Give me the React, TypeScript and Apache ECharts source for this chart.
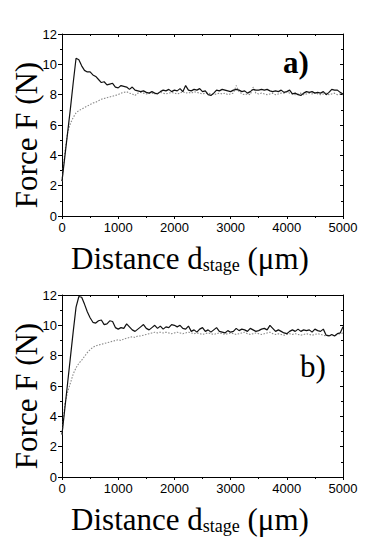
import React, { useEffect, useRef } from "react";
import * as echarts from "echarts";

const distance: number[] = [];
for (let d = 0; d <= 5000; d += 50) distance.push(d);

const yTicks = [0, 2, 4, 6, 8, 10, 12];
const xTicks = [0, 1000, 2000, 3000, 4000, 5000];

const aSolid = [
  2.3, 3.9, 5.5, 7.1, 8.8, 10.4, 10.3, 9.9, 9.6, 9.5,
  9.5, 9.3, 9.2, 9.0, 8.8, 8.85, 8.65, 8.7, 8.75, 8.5,
  8.45, 8.6, 8.55, 8.5, 8.35, 8.5, 8.3, 8.25, 8.2, 8.25,
  8.15, 8.1, 8.2, 8.1, 8.05, 8.2, 8.3, 8.25, 8.35, 8.2,
  8.3, 8.25, 8.4, 8.2, 8.6, 8.3, 8.25, 8.35, 8.3, 8.4,
  8.2, 8.25, 8.0, 7.95, 8.1, 8.3, 8.25, 8.35, 8.3, 8.25,
  8.2, 8.3, 8.35, 8.3, 8.2, 8.25, 8.1, 8.2, 8.35, 8.3,
  8.3, 8.35, 8.3, 8.35, 8.25, 8.2, 8.25, 8.2, 8.3, 8.15,
  8.2, 8.3, 8.05, 8.1, 8.0, 7.95, 8.1, 8.2, 8.15, 8.2,
  8.1, 8.15, 8.1, 8.2, 8.0, 8.15, 8.35, 8.3, 8.3, 8.15,
  8.05,
];

const aDotted = [
  2.3, 4.2, 5.5, 6.1, 6.5, 6.8, 6.95, 7.05, 7.15, 7.25,
  7.35, 7.45, 7.5, 7.6, 7.7, 7.75, 7.8, 7.85, 7.9, 7.95,
  8.0, 8.1, 8.15, 8.2, 8.1, 8.05, 7.95, 8.1, 8.15, 8.1,
  8.05, 8.1, 8.1, 8.05, 8.1, 8.15, 8.1, 8.05, 8.1, 8.15,
  8.1, 8.05, 8.1, 8.2, 8.1, 8.15, 8.1, 8.2, 8.15, 8.1,
  8.05, 8.1, 8.1, 8.05, 8.0, 8.05, 8.1, 8.05, 8.1, 8.0,
  8.05, 8.1, 8.6, 8.2, 8.05, 8.0, 8.05, 8.0, 8.5, 8.1,
  8.05, 8.1, 8.05, 8.0, 8.05, 8.1, 8.0, 8.05, 8.1, 8.1,
  8.2, 8.1, 8.05, 8.0, 8.05, 8.1, 8.0, 8.05, 8.1, 8.05,
  8.15, 8.05, 8.0, 8.05, 8.1, 8.0, 8.05, 8.1, 8.0, 8.05,
  8.0,
];

const bSolid = [
  2.8, 4.5, 6.2, 7.9, 9.6, 11.2, 11.9, 11.85, 11.4, 10.9,
  10.5, 10.2, 10.15, 10.3, 10.35, 10.05, 10.1, 10.3, 10.25, 9.85,
  9.75, 9.85, 9.8, 10.1, 9.9, 9.7, 9.6, 9.75, 9.9, 10.05,
  9.8, 9.7, 9.85, 10.0, 9.8, 9.95, 9.75, 9.9, 9.85, 10.05,
  10.0, 9.9, 10.0, 9.8, 9.75, 9.95, 9.6, 9.7, 9.55, 9.75,
  9.85, 9.6, 9.7, 9.55, 9.7, 9.85, 9.6, 9.55, 9.5, 9.65,
  9.55, 9.6, 9.8, 9.65, 9.75, 9.7, 9.6, 9.8, 9.7, 9.6,
  9.65, 9.75, 9.8, 9.7, 10.0, 9.8, 9.6, 9.7, 9.6, 9.5,
  9.45, 9.6, 9.7, 9.6, 9.75, 9.6, 9.7, 9.65, 9.7, 9.55,
  9.75, 9.65, 9.6, 9.75, 9.35, 9.3, 9.4, 9.3, 9.45, 9.5,
  9.9,
];

const bDotted = [
  2.8, 4.8, 5.6, 6.2, 6.8, 7.2, 7.5, 7.7, 7.95, 8.2,
  8.4, 8.55, 8.65, 8.7, 8.75, 8.8, 8.85, 8.9, 8.95, 9.0,
  9.05, 9.0, 9.1, 9.15, 9.2, 9.25, 9.2, 9.3, 9.3, 9.35,
  9.4, 9.45, 9.5, 9.55, 9.5, 9.55, 9.5, 9.55, 9.5, 9.45,
  9.5, 9.55, 9.5, 9.45, 9.5, 9.55, 9.5, 9.45, 9.5, 9.45,
  9.4, 9.45, 9.5, 9.45, 9.4, 9.45, 9.5, 9.45, 9.4, 9.45,
  9.5, 9.45, 9.4, 9.45, 9.5, 9.55, 9.45, 9.4, 9.45, 9.5,
  9.45, 9.4, 9.45, 9.5, 9.55, 9.45, 9.4, 9.45, 9.4, 9.35,
  9.4, 9.45, 9.4, 9.45, 9.4, 9.35, 9.4, 9.45, 9.4, 9.35,
  9.4, 9.45, 9.4, 9.35, 9.3, 9.35, 9.3, 9.35, 9.4, 9.45,
  9.5,
];

const panelLabels = ["a)", "b)"];
const yTitle = "Force F (N)";

const pair = (ys: number[]) => ys.map((y, i) => [distance[i], y]);

const GRID_TOPS = [34, 295];
const GRID_LEFT = 62;
const GRID_W = 281;
const GRID_H = 182;

export default function App() {
  const ref = useRef<HTMLDivElement>(null);
  useEffect(() => {
    if (!ref.current) return;
    const chart = echarts.init(ref.current, null, { renderer: "svg" });
    const black = "#000";
    const grids = GRID_TOPS.map((t) => ({
      left: GRID_LEFT,
      top: t,
      width: GRID_W,
      height: GRID_H,
      show: false,
    }));
    const xAxes: any[] = [];
    const yAxes: any[] = [];
    [0, 1].forEach((g) => {
      const xBase = {
        gridIndex: g,
        type: "value",
        min: xTicks[0],
        max: xTicks[xTicks.length - 1],
        interval: 1000,
        splitLine: { show: false },
        axisLine: { onZero: false, lineStyle: { color: black, width: 1 } },
        minorTick: { show: true, splitNumber: 2, length: 2, lineStyle: { color: black } },
      };
      xAxes.push({
        ...xBase,
        position: "bottom",
        axisTick: { inside: false, length: 3, lineStyle: { color: black } },
        axisLabel: {
          color: black,
          fontSize: 13,
          fontFamily: "Liberation Sans",
          margin: 5,
          formatter: (v: number) => String(v),
        },
      });
      xAxes.push({
        ...xBase,
        position: "top",
        axisTick: { inside: true, length: 3, lineStyle: { color: black } },
        axisLabel: { show: false },
      });
      const yBase = {
        gridIndex: g,
        type: "value",
        min: yTicks[0],
        max: yTicks[yTicks.length - 1],
        interval: 2,
        splitLine: { show: false },
        axisLine: { onZero: false, lineStyle: { color: black, width: 1 } },
        minorTick: { show: true, splitNumber: 2, length: 2, lineStyle: { color: black } },
      };
      yAxes.push({
        ...yBase,
        position: "left",
        axisTick: { inside: false, length: 4, lineStyle: { color: black } },
        axisLabel: {
          color: black,
          fontSize: 13,
          fontFamily: "Liberation Sans",
          margin: 5,
          formatter: (v: number) => String(v),
        },
      });
      yAxes.push({
        ...yBase,
        position: "right",
        axisTick: { inside: true, length: 3, lineStyle: { color: black } },
        axisLabel: { show: false },
      });
    });
    const series: any[] = [];
    [
      [aSolid, aDotted],
      [bSolid, bDotted],
    ].forEach(([solid, dotted], g) => {
      series.push({
        type: "line",
        xAxisIndex: g * 2,
        yAxisIndex: g * 2,
        data: pair(dotted),
        showSymbol: false,
        lineStyle: { color: "#8a8a8a", width: 1.1, type: [1.5, 1.5] },
        z: 2,
      });
      series.push({
        type: "line",
        xAxisIndex: g * 2,
        yAxisIndex: g * 2,
        data: pair(solid),
        showSymbol: false,
        lineStyle: { color: "#111", width: 1.2 },
        z: 3,
      });
    });
    const graphic: any[] = [];
    GRID_TOPS.forEach((t, g) => {
      graphic.push({
        type: "text",
        x: 26,
        y: t + GRID_H / 2 + 10,
        rotation: Math.PI / 2,
        style: {
          text: yTitle,
          fontFamily: "Liberation Serif",
          fontSize: 31,
          fill: black,
          align: "center",
          verticalAlign: "middle",
        },
      });
      graphic.push({
        type: "text",
        x: 190,
        y: t + GRID_H + 27,
        style: {
          text: "Distance d{s|stage} (μm)",
          fontFamily: "Liberation Serif",
          fontSize: 31,
          fill: black,
          align: "center",
          verticalAlign: "top",
          rich: {
            s: {
              fontFamily: "Liberation Serif",
              fontSize: 18,
              fill: black,
              verticalAlign: "bottom",
              lineHeight: 8,
            },
          },
        },
      });
      graphic.push({
        type: "text",
        x: g === 0 ? 283 : 300,
        y: g === 0 ? t + 28 : t + 71,
        style: {
          text: panelLabels[g],
          fontFamily: "Liberation Serif",
          fontSize: 31,
          fontWeight: g === 0 ? "bold" : "normal",
          fill: black,
          align: "left",
          verticalAlign: "middle",
        },
      });
    });
    chart.setOption({
      animation: false,
      backgroundColor: "#fff",
      grid: grids,
      xAxis: xAxes,
      yAxis: yAxes,
      series,
      graphic,
    });
    return () => chart.dispose();
  }, []);
  return (
    <div
      ref={ref}
      style={{ position: "fixed", left: 0, top: 0, width: 382, height: 540 }}
    />
  );
}
